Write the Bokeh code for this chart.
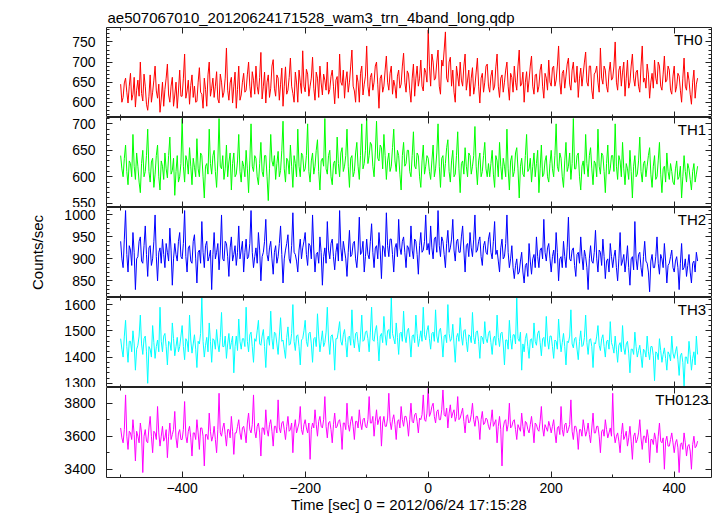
import numpy as np
from bokeh.plotting import figure
from bokeh.layouts import column
from bokeh.models import Range1d, FixedTicker, LinearAxis, Label, CustomLabelingPolicy
from bokeh.embed import file_html
from bokeh.resources import INLINE

# ---------------- data, one row = 100 s ----------------
T_START = -500.0
T_STEP = 2.0

TH0 = [
    645,600, 612,648, 660,625, 598,640, 672,605, 620,662, 588,630, 655,615, 700,622, 603,670, 640,595, 580,615, 668,600, 625,655, 690,628, 610,645, 575,608, 650,590, 632,660, 695,618, 600,640, 662,590, 618,650, 585,628, 680,615,
    615,660, 720,610, 628,655, 595,642, 668,612, 640,600, 602,650, 686,625, 620,585, 660,632, 590,668, 700,615, 635,660, 612,640, 676,608, 598,670, 650,612, 625,660, 735,630, 605,648, 662,598, 640,675, 585,632, 690,605, 618,650,
    672,625, 630,668, 700,640, 612,676, 655,620, 690,640, 620,662, 724,608, 640,675, 598,650, 668,612, 635,690, 706,635, 615,668, 660,605, 645,685, 590,640, 688,620, 630,662, 710,640, 622,600, 675,648, 600,680, 650,622, 728,640,
    626,682, 670,615, 640,660, 712,635, 605,675, 660,612, 690,648, 618,670, 655,630, 700,620, 632,664, 680,640, 596,655, 664,610, 720,650, 642,680, 610,655, 676,625, 650,690, 730,640, 628,600, 668,650, 600,672, 690,618, 645,665,
    740,640, 615,662, 672,630, 650,690, 700,645, 585,660, 668,625, 640,680, 715,650, 630,672, 690,620, 655,640, 610,665, 680,635, 645,690, 722,650, 625,678, 670,630, 600,660, 695,615, 660,690, 640,660, 705,640, 628,685, 675,650,
    780,690, 640,720, 700,655, 660,700, 730,640, 620,705, 690,730, 775,660, 650,700, 712,640, 680,625, 600,690, 665,640, 700,655, 640,690, 720,630, 655,680, 615,660, 686,620, 640,675, 710,640, 598,660, 672,625, 650,690, 695,640,
    625,665, 680,630, 640,688, 720,640, 612,660, 668,625, 650,680, 700,640, 605,672, 662,625, 690,650, 630,690, 730,640, 645,675, 600,650, 676,625, 655,690, 715,640, 620,668, 670,625, 640,680, 695,640, 610,672, 660,630, 705,650,
    640,685, 690,640, 655,690, 740,650, 620,672, 680,635, 665,695, 710,645, 630,680, 700,650, 650,690, 612,660, 685,640, 670,700, 725,650, 640,690, 690,630, 608,670, 675,690, 650,625, 735,660, 645,690, 680,640, 625,675, 700,655,
    660,690, 750,650, 630,680, 690,640, 675,700, 615,660, 705,635, 650,690, 720,660, 640,675, 680,640, 625,690, 740,650, 660,635, 695,670, 610,650, 672,635, 705,660, 645,700, 690,640, 630,670, 715,650, 655,690, 680,630, 620,665,
    690,625, 640,672, 665,630, 600,660, 710,640, 630,675, 655,620, 595,650, 680,610, 645,660,
]
TH1 = [
    640,615, 600,635, 660,610, 585,630, 625,600, 680,620, 595,645, 620,590, 570,625, 650,600, 610,640, 690,610, 590,628, 635,580, 605,640, 660,600, 575,630, 620,595, 645,615, 598,640, 675,605, 612,635, 565,610, 640,590, 600,625,
    710,620, 590,640, 630,605, 655,620, 585,635, 618,600, 672,615, 600,645, 640,600, 560,620, 625,605, 690,625, 605,640, 650,610, 580,630, 710,620, 615,640, 595,615, 660,600, 628,645, 575,625, 645,600, 605,630, 680,610, 590,630,
    620,600, 650,615, 570,630, 700,620, 610,640, 635,600, 585,625, 665,610, 600,640, 640,600, 555,615, 680,630, 620,640, 595,625, 648,600, 612,650, 705,615, 590,635, 630,605, 660,620, 580,640, 625,600, 690,620, 600,645, 640,610,
    615,640, 700,610, 590,630, 645,605, 620,650, 670,610, 575,630, 635,620, 710,615, 605,640, 650,600, 585,625, 630,605, 675,625, 600,645, 655,610, 620,640, 690,620, 580,635, 640,600, 610,645, 665,620, 595,640, 700,615, 625,650,
    710,625, 640,665, 660,620, 600,645, 705,635, 630,660, 655,615, 680,640, 595,630, 645,610, 620,655, 690,630, 610,650, 640,605, 575,640, 665,620, 625,650, 650,610, 600,640, 685,620, 615,645, 640,600, 580,630, 660,605, 620,640,
    635,610, 595,630, 660,600, 615,645, 700,620, 580,635, 640,600, 625,655, 670,610, 590,630, 650,600, 605,640, 685,615, 570,625, 630,605, 655,620, 600,645, 640,605, 620,640, 695,620, 585,630, 645,600, 610,640, 665,615, 600,625,
    600,625, 650,605, 580,640, 630,600, 665,620, 595,635, 620,600, 690,615, 575,630, 640,600, 610,645, 655,615, 560,620, 635,605, 600,640, 680,610, 615,635, 590,620, 645,600, 625,650, 570,615, 660,600, 605,630, 640,600, 590,625,
    650,615, 600,640, 700,620, 610,645, 635,600, 580,630, 665,610, 620,645, 595,625, 710,615, 615,640, 645,600, 575,620, 630,605, 680,625, 600,640, 655,615, 585,630, 625,600, 690,620, 605,645, 640,610, 570,625, 660,605, 615,640,
    640,610, 700,620, 595,640, 630,600, 665,615, 585,625, 615,595, 650,610, 560,620, 640,600, 605,630, 675,610, 590,625, 630,600, 620,640, 655,605, 580,620, 640,595, 600,630, 665,605, 570,615, 620,590, 645,610, 595,625, 610,590,
    585,615, 630,595, 600,620, 560,600, 640,610, 590,625, 615,595, 575,610, 625,590, 605,620,
]
TH2 = [
    940,900, 880,945, 1010,910, 870,930, 920,885, 960,915, 830,900, 905,940, 950,895, 890,930, 975,910, 860,925, 930,885, 900,940, 1000,905, 850,915, 925,890, 945,910, 880,935, 915,895, 970,920, 840,900, 935,910, 895,940, 960,905,
    900,935, 1010,905, 870,925, 930,895, 890,940, 955,900, 845,915, 920,890, 985,915, 880,930, 940,895, 905,920, 830,910, 960,900, 915,935, 875,920, 1000,900, 895,940, 935,905, 860,925, 950,895, 910,930, 885,915, 975,900, 920,940,
    870,915, 945,900, 905,935, 1010,915, 880,905, 925,890, 960,920, 850,905, 915,940, 990,910, 895,925, 940,900, 865,915, 930,890, 905,935, 975,910, 845,900, 920,935, 955,900, 890,930, 1005,915, 910,895, 870,920, 945,900, 925,940,
    960,910, 885,935, 930,900, 1000,920, 870,910, 915,890, 950,915, 840,905, 925,890, 985,920, 900,935, 945,905, 875,915, 935,895, 1010,925, 895,940, 920,900, 860,915, 965,905, 910,935, 940,900, 880,920, 995,910, 915,940, 870,905,
    945,910, 900,940, 980,915, 880,925, 930,900, 960,920, 855,930, 925,905, 1005,930, 905,945, 945,910, 870,925, 935,905, 990,925, 910,940, 950,915, 880,930, 925,905, 975,920, 900,945, 940,910, 865,930, 960,915, 920,940, 1000,920,
    935,910, 975,925, 900,945, 950,915, 1010,930, 905,950, 940,910, 880,935, 965,915, 925,945, 990,920, 895,940, 945,915, 915,950, 975,920, 870,930, 935,905, 960,925, 905,945, 1000,915, 920,940, 950,905, 885,930, 940,915, 910,945,
    960,915, 900,940, 985,910, 920,895, 870,925, 945,900, 905,935, 1000,915, 880,900, 930,880, 855,885, 900,865, 870,895, 915,870, 845,885, 890,860, 935,895, 865,900, 910,880, 950,905, 880,920, 925,900, 990,915, 895,925, 935,900,
    870,905, 920,890, 960,915, 850,900, 905,880, 940,905, 880,925, 995,900, 895,920, 925,885, 860,910, 915,890, 950,905, 875,920, 905,880, 830,900, 930,895, 890,915, 965,900, 870,920, 915,885, 945,905, 855,895, 900,870, 935,905,
    880,905, 920,880, 850,900, 960,885, 895,910, 870,895, 930,880, 840,900, 905,875, 985,900, 875,910, 915,880, 860,905, 940,895, 890,870, 825,895, 910,880, 880,905, 950,890, 865,910, 900,880, 935,895, 845,885, 890,905, 920,880,
    870,895, 905,880, 830,890, 935,875, 880,900, 860,885, 910,870, 845,890, 895,870, 915,895,
]
TH3 = [
    1470,1430, 1400,1480, 1540,1440, 1380,1460, 1460,1420, 1500,1450, 1350,1430, 1445,1480, 1560,1450, 1410,1470, 1480,1420, 1300,1440, 1430,1400, 1520,1455, 1395,1440, 1465,1420, 1590,1460, 1420,1480, 1490,1440, 1370,1460, 1455,1425, 1530,1470, 1405,1440, 1475,1420, 1440,1480,
    1520,1440, 1390,1470, 1460,1420, 1560,1465, 1415,1450, 1485,1430, 1360,1460, 1450,1490, 1625,1460, 1400,1445, 1475,1420, 1530,1460, 1380,1470, 1465,1430, 1505,1450, 1420,1475, 1570,1440, 1440,1480, 1395,1450, 1490,1430, 1455,1480, 1340,1440, 1480,1425, 1545,1460, 1430,1470,
    1470,1440, 1590,1460, 1420,1485, 1495,1440, 1380,1470, 1460,1500, 1540,1450, 1445,1480, 1505,1440, 1360,1465, 1480,1445, 1575,1470, 1430,1495, 1490,1450, 1410,1480, 1550,1460, 1465,1430, 1395,1475, 1515,1445, 1450,1490, 1600,1460, 1425,1480, 1485,1440, 1370,1465, 1470,1500,
    1540,1460, 1440,1490, 1495,1450, 1380,1470, 1475,1440, 1565,1480, 1420,1460, 1500,1440, 1455,1495, 1590,1465, 1410,1480, 1485,1450, 1350,1470, 1470,1500, 1535,1460, 1445,1485, 1505,1455, 1400,1475, 1480,1445, 1580,1470, 1435,1490, 1495,1455, 1420,1480, 1560,1460, 1465,1495,
    1500,1470, 1420,1495, 1590,1465, 1460,1500, 1520,1460, 1385,1480, 1490,1455, 1555,1485, 1445,1500, 1505,1470, 1625,1490, 1470,1450, 1530,1475, 1410,1490, 1495,1460, 1575,1480, 1455,1500, 1510,1465, 1400,1480, 1485,1455, 1560,1490, 1440,1470, 1500,1460, 1590,1485, 1465,1500,
    1520,1470, 1430,1490, 1495,1460, 1580,1480, 1455,1500, 1510,1465, 1400,1480, 1485,1455, 1600,1490, 1460,1470, 1525,1450, 1380,1475, 1490,1460, 1550,1480, 1445,1500, 1505,1460, 1420,1485, 1480,1455, 1570,1475, 1450,1495, 1500,1460, 1395,1480, 1475,1450, 1535,1470, 1455,1490,
    1500,1455, 1410,1470, 1480,1445, 1560,1475, 1440,1490, 1495,1450, 1370,1465, 1465,1430, 1540,1470, 1430,1485, 1485,1450, 1625,1470, 1460,1495, 1350,1450, 1420,1470, 1490,1440, 1395,1465, 1470,1435, 1530,1460, 1445,1490, 1500,1455, 1405,1470, 1475,1440, 1555,1465, 1430,1480,
    1480,1440, 1395,1465, 1460,1430, 1545,1470, 1420,1455, 1490,1440, 1370,1460, 1455,1480, 1580,1450, 1435,1470, 1475,1430, 1390,1460, 1500,1440, 1445,1475, 1560,1455, 1410,1465, 1470,1440, 1360,1455, 1450,1480, 1520,1445, 1425,1470, 1485,1440, 1400,1460, 1465,1430, 1535,1455,
    1440,1415, 1480,1430, 1380,1445, 1455,1420, 1520,1435, 1410,1450, 1460,1415, 1340,1430, 1430,1410, 1495,1440, 1400,1425, 1445,1405, 1360,1430, 1425,1400, 1480,1420, 1390,1440, 1440,1405, 1310,1420, 1415,1390, 1470,1425, 1380,1410, 1435,1395, 1350,1420, 1410,1385, 1480,1415,
    1395,1420, 1440,1390, 1330,1405, 1415,1380, 1290,1400, 1400,1375, 1460,1410, 1350,1395, 1420,1370, 1480,1410,
]
TH0123 = [
    3650,3590, 3560,3640, 3850,3600, 3520,3630, 3620,3580, 3700,3610, 3450,3630, 3600,3560, 3680,3620, 3380,3600, 3640,3570, 3560,3650, 3720,3600, 3500,3630, 3620,3580, 3780,3620, 3540,3600, 3660,3570, 3590,3640, 3470,3600, 3680,3580, 3610,3640, 3750,3590, 3530,3620, 3640,3580,
    3580,3640, 3810,3600, 3560,3630, 3660,3590, 3480,3620, 3620,3580, 3700,3620, 3520,3650, 3650,3600, 3420,3610, 3610,3580, 3740,3630, 3570,3600, 3660,3580, 3500,3640, 3860,3620, 3600,3650, 3680,3610, 3540,3640, 3640,3590, 3720,3630, 3490,3620, 3620,3660, 3700,3620, 3580,3650,
    3660,3620, 3560,3680, 3740,3640, 3620,3670, 3850,3630, 3590,3660, 3680,3620, 3480,3650, 3650,3610, 3760,3640, 3600,3670, 3700,3630, 3540,3660, 3660,3620, 3820,3650, 3620,3680, 3690,3640, 3580,3660, 3720,3630, 3640,3680, 3500,3650, 3700,3620, 3650,3680, 3780,3640, 3610,3670,
    3700,3650, 3620,3680, 3460,3640, 3680,3650, 3760,3670, 3600,3690, 3720,3660, 3650,3700, 3840,3660, 3590,3680, 3690,3640, 3560,3670, 3740,3650, 3660,3690, 3700,3650, 3520,3680, 3680,3640, 3800,3670, 3630,3690, 3720,3660, 3580,3690, 3690,3650, 3760,3680, 3640,3700, 3710,3660,
    3650,3700, 3840,3680, 3680,3720, 3600,3690, 3760,3670, 3700,3720, 3540,3680, 3720,3660, 3660,3710, 3860,3690, 3640,3700, 3730,3670, 3580,3690, 3700,3650, 3780,3700, 3660,3720, 3720,3680, 3600,3700, 3800,3690, 3680,3730, 3740,3690, 3620,3710, 3700,3730, 3850,3700, 3690,3740,
    3890,3720, 3740,3780, 3800,3720, 3680,3750, 3760,3700, 3700,3760, 3880,3730, 3720,3770, 3650,3740, 3790,3710, 3740,3760, 3690,3720, 3840,3700, 3710,3740, 3770,3690, 3620,3720, 3730,3680, 3690,3730, 3800,3700, 3660,3720, 3720,3680, 3580,3700, 3750,3670, 3680,3710, 3700,3660,
    3640,3690, 3760,3660, 3680,3700, 3560,3660, 3720,3640, 3420,3650, 3690,3700, 3630,3670, 3800,3650, 3660,3690, 3700,3640, 3580,3670, 3650,3630, 3740,3660, 3600,3690, 3680,3640, 3620,3670, 3720,3650, 3560,3680, 3670,3640, 3630,3690, 3780,3650, 3600,3670, 3650,3630, 3690,3660,
    3620,3660, 3700,3620, 3560,3650, 3660,3610, 3780,3640, 3600,3670, 3680,3620, 3640,3670, 3820,3630, 3580,3660, 3660,3620, 3520,3640, 3640,3600, 3700,3650, 3600,3630, 3680,3610, 3560,3650, 3740,3620, 3620,3660, 3660,3600, 3500,3630, 3640,3600, 3700,3640, 3590,3620, 3650,3600,
    3860,3620, 3560,3600, 3620,3570, 3500,3610, 3680,3580, 3600,3630, 3540,3590, 3660,3570, 3460,3600, 3620,3560, 3580,3620, 3700,3590, 3520,3600, 3600,3560, 3640,3590, 3440,3580, 3580,3550, 3620,3580, 3500,3600, 3680,3570, 3560,3590, 3400,3570, 3600,3540, 3540,3580, 3620,3560,
    3500,3560, 3580,3530, 3380,3550, 3560,3520, 3620,3560, 3480,3540, 3550,3510, 3400,3550, 3600,3530, 3540,3570,
]

SERIES = [TH0, TH1, TH2, TH3, TH0123]
PANEL_NAMES = ["TH0", "TH1", "TH2", "TH3", "TH0123"]
COLORS = ["#ff0000", "#00ff00", "#0000ff", "#00ffff", "#ff00ff"]
Y_RANGES = [(562, 786), (542, 712), (812, 1017), (1284, 1627), (3350, 3895)]
Y_MAJOR = [[600, 650, 700, 750], [550, 600, 650, 700], [850, 900, 950, 1000],
           [1300, 1400, 1500, 1600], [3400, 3600, 3800]]
Y_MINOR_STEP = [10, 10, 10, 20, 100]
X_RANGE = (-523.0, 460.6)
X_MAJOR = [-400, -200, 0, 200, 400]
X_MINOR = [-500, -300, -100, 100, 300]
TITLE = "ae507067010_20120624171528_wam3_trn_4band_long.qdp"
X_LABEL = "Time [sec] 0 = 2012/06/24 17:15:28"
Y_LABEL = "Counts/sec"

FONT = "Liberation Sans"
FRAME_W, FRAME_H = 605, 90
NAME_RIGHT = [446, 452, 452, 452, 456]

xr = Range1d(*X_RANGE)
HIDE_ALL = CustomLabelingPolicy(code="for (const i of Array.from(indices)) { indices.unset(i) }")


def minor_list(lo, hi, step):
    start = int(np.ceil(lo / step)) * step
    return list(range(start, int(hi) + 1, step))


def style_axis(ax, ticker, show_labels):
    ax.ticker = ticker
    ax.major_tick_in = 6
    ax.major_tick_out = 0
    ax.minor_tick_in = 3
    ax.minor_tick_out = 0
    ax.axis_line_color = None
    ax.major_tick_line_color = "#222222"
    ax.minor_tick_line_color = "#222222"
    if show_labels:
        ax.major_label_text_font = FONT
        ax.major_label_text_font_size = "14px"
        ax.major_label_text_color = "black"
    else:
        ax.major_label_text_font_size = "0px"
        ax.major_label_standoff = 0
        ax.major_label_policy = HIDE_ALL


panels = []
for i, vals in enumerate(SERIES):
    first, last = i == 0, i == len(SERIES) - 1
    lo, hi = Y_RANGES[i]
    p = figure(frame_width=FRAME_W, frame_height=FRAME_H, x_range=xr,
               y_range=Range1d(lo, hi), output_backend="svg", toolbar_location=None,
               x_axis_location=None, y_axis_location=None,
               title=TITLE if first else None,
               min_border_left=106, min_border_right=4,
               min_border_top=27 if first else 0, min_border_bottom=38 if last else 0)
    p.xgrid.visible = False
    p.ygrid.visible = False
    p.outline_line_color = "#222222"
    p.outline_line_width = 1
    p.background_fill_color = "white"
    p.border_fill_color = "white"
    if first:
        p.title.text_font = FONT
        p.title.text_font_size = "15px"
        p.title.text_font_style = "normal"
        p.title.text_color = "black"
        p.title.align = "left"
        p.title.standoff = 4
        p.title.offset = 1

    yt = FixedTicker(ticks=Y_MAJOR[i], minor_ticks=minor_list(lo, hi, Y_MINOR_STEP[i]))
    xt = FixedTicker(ticks=X_MAJOR, minor_ticks=X_MINOR)

    left = LinearAxis()
    style_axis(left, yt, True)
    left.major_label_standoff = 11
    if i == 2:
        left.axis_label = Y_LABEL
        left.axis_label_text_font = FONT
        left.axis_label_text_font_size = "15px"
        left.axis_label_text_font_style = "normal"
        left.axis_label_text_color = "black"
        left.axis_label_standoff = 15
    p.add_layout(left, "left")

    right = LinearAxis()
    style_axis(right, yt, False)
    p.add_layout(right, "right")

    top = LinearAxis()
    style_axis(top, xt, False)
    p.add_layout(top, "above")

    bottom = LinearAxis()
    style_axis(bottom, xt, last)
    if last:
        bottom.major_label_standoff = 5
        bottom.major_label_overrides = {v: (str(v).replace("-", "\u2212")) for v in X_MAJOR}
        bottom.axis_label = X_LABEL
        bottom.axis_label_text_font = FONT
        bottom.axis_label_text_font_size = "15px"
        bottom.axis_label_text_font_style = "normal"
        bottom.axis_label_text_color = "black"
        bottom.axis_label_standoff = 0
    p.add_layout(bottom, "below")

    t = T_START + T_STEP * np.arange(len(vals))
    p.line(t, vals, line_color=COLORS[i], line_width=1)

    ypx = (hi - lo) / FRAME_H
    p.add_layout(Label(x=NAME_RIGHT[i], y=hi - 3.5 * ypx, text=PANEL_NAMES[i],
                       text_align="right", text_baseline="top",
                       text_font=FONT, text_font_size="15px", text_color="black"))
    panels.append(p)

layout = column(*panels, spacing=0)
open("out.html", "w").write(file_html(layout, INLINE))
